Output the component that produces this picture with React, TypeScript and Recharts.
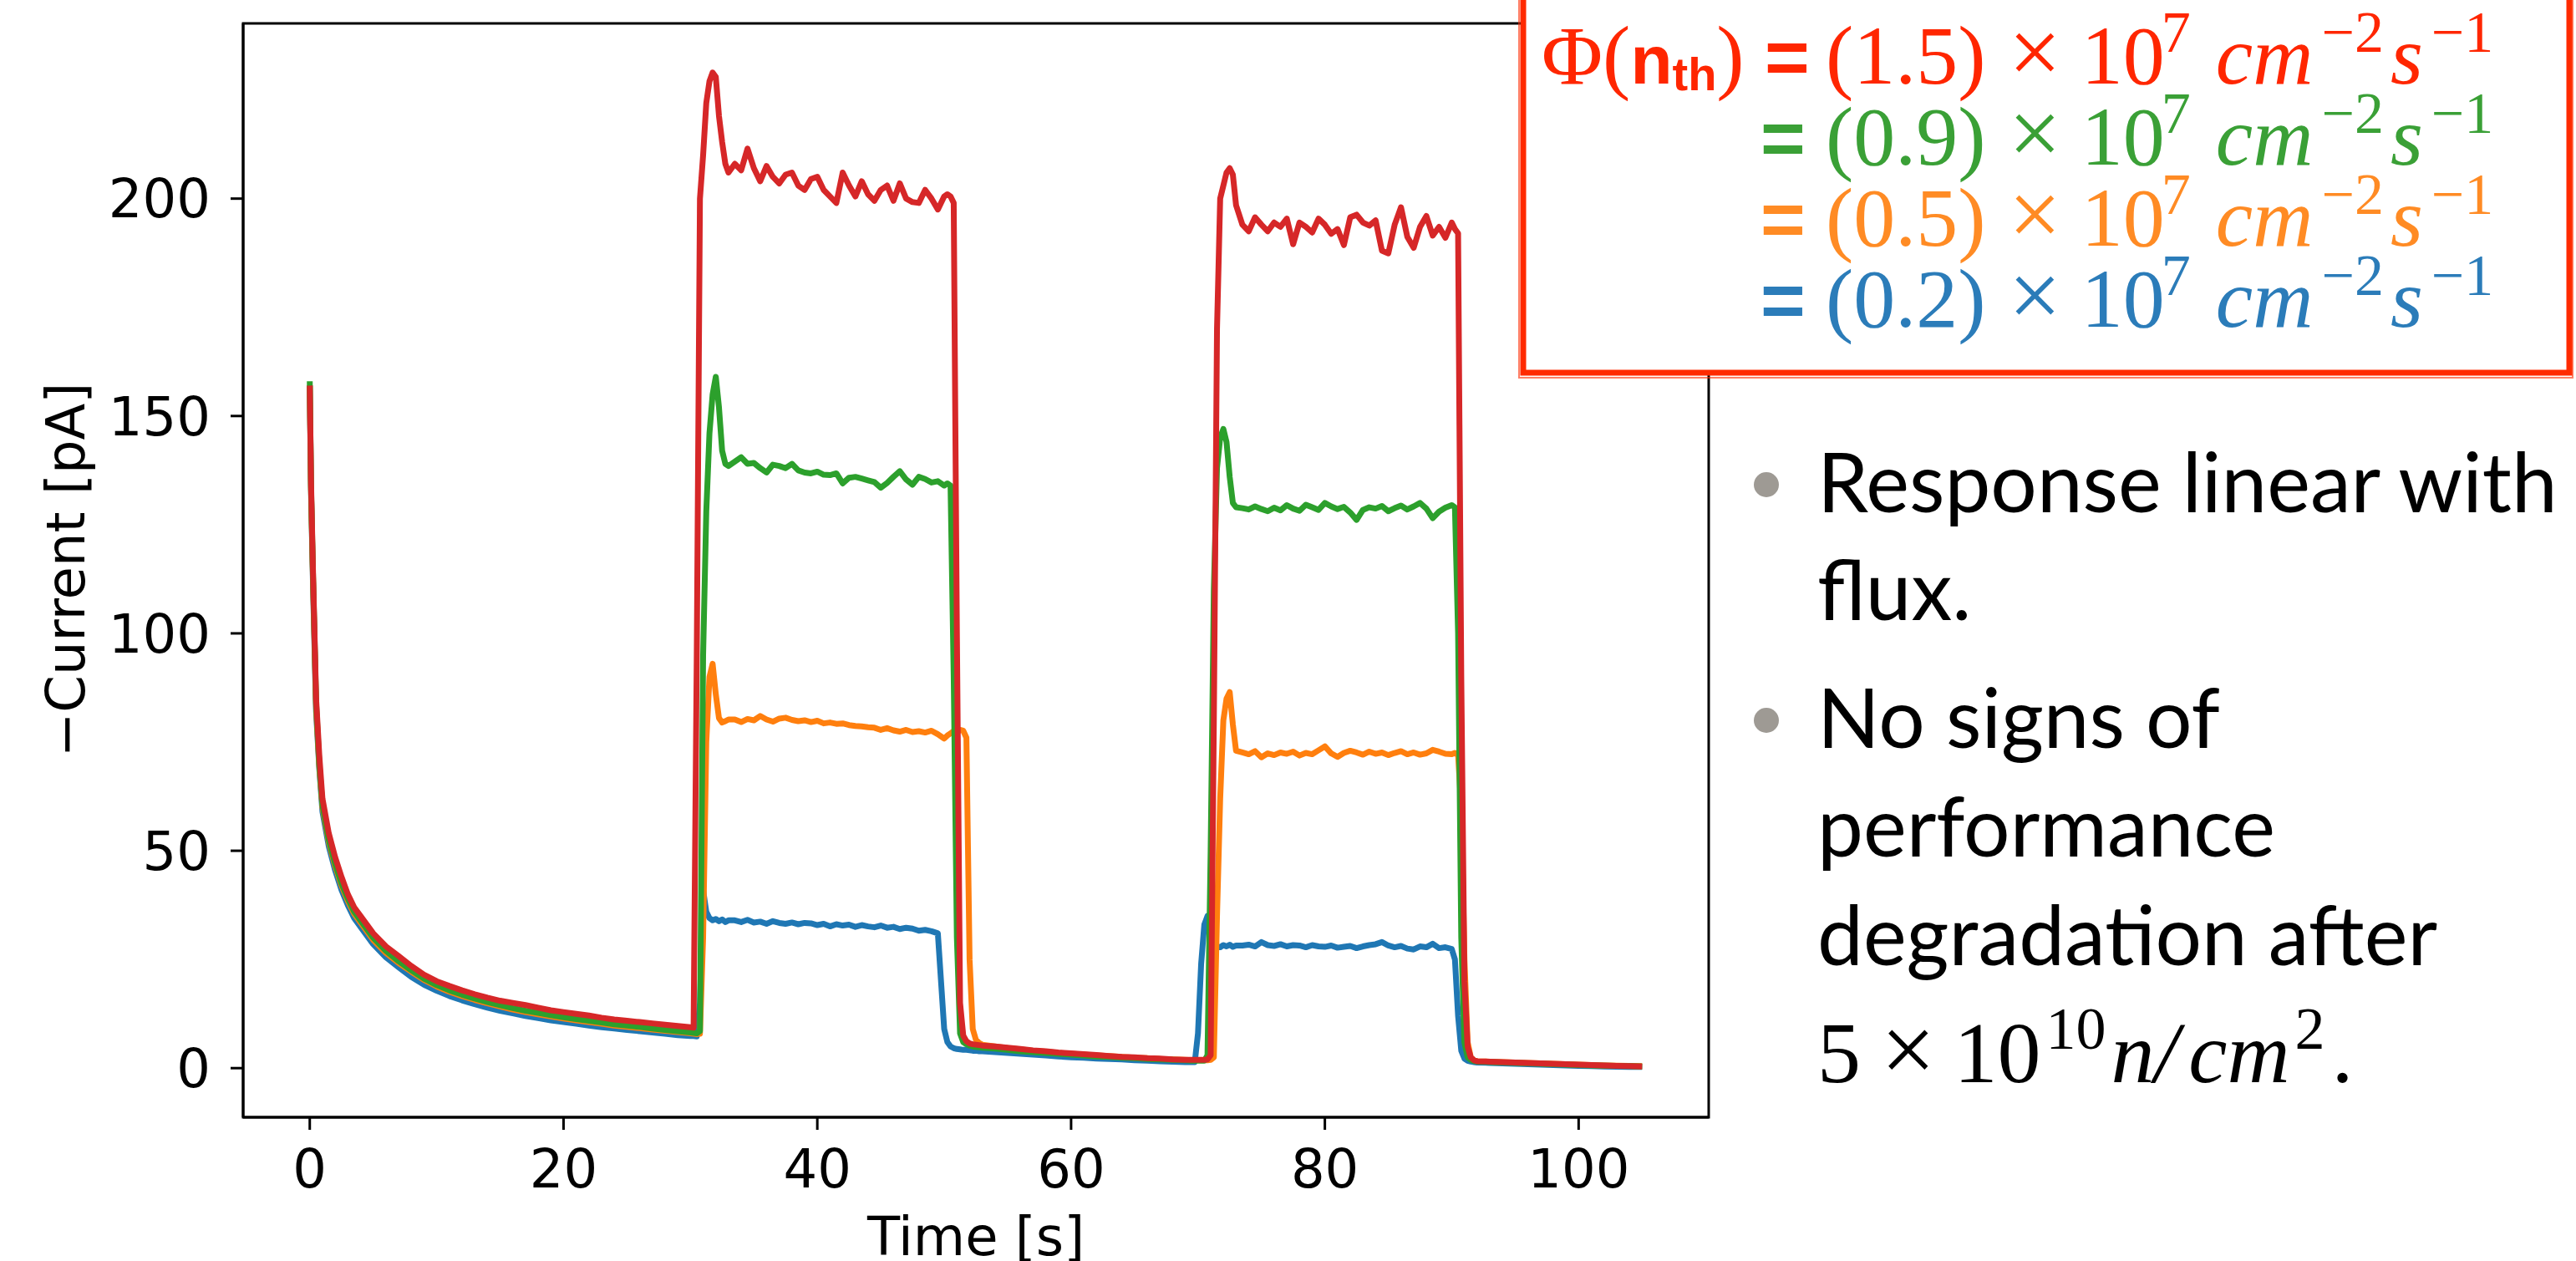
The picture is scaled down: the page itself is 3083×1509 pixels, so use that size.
import { LineChart, Line, XAxis, YAxis, ReferenceArea } from "recharts"

// time axis [s], denser where the signal switches
const TIME = [
  0, 0.1, 0.25, 0.5, 0.75, 1, 1.5, 2, 2.5, 3, 3.5, 4, 5, 6, 7, 8, 9, 10, 11, 12, 13, 14, 15, 16, 17, 18, 19, 20, 21, 22, 23, 24, 25, 26, 27, 28, 29, 30,
  30.25, 30.5, 30.75, 31, 31.25, 31.5, 31.75, 32, 32.25, 32.5, 32.75, 33,
  33.5, 34, 34.5, 35, 35.5, 36, 36.5, 37, 37.5, 38, 38.5, 39, 39.5, 40, 40.5, 41, 41.5, 42, 42.5, 43, 43.5, 44, 44.5, 45, 45.5, 46, 46.5, 47, 47.5, 48, 48.5, 49, 49.5, 50,
  50.25, 50.5, 50.75, 51, 51.25, 51.5, 51.75, 52, 52.25, 52.5, 52.75, 53,
  54, 55, 56, 57, 58, 59, 60, 61, 62, 63, 64, 65, 66, 67, 68, 69,
  69.5, 69.75, 70, 70.25, 70.5, 70.75, 71, 71.25, 71.5, 71.75, 72, 72.25, 72.5, 72.75, 73,
  73.5, 74, 74.5, 75, 75.5, 76, 76.5, 77, 77.5, 78, 78.5, 79, 79.5, 80, 80.5, 81, 81.5, 82, 82.5, 83, 83.5, 84, 84.5, 85, 85.5, 86, 86.5, 87, 87.5, 88, 88.5, 89, 89.5, 90,
  90.25, 90.5, 90.75, 91, 91.25, 91.5, 91.75, 92,
  93, 94, 95, 96, 97, 98, 99, 100, 101, 102, 103, 104, 105,
]

// -current [pA] per flux
const BLUE = [
  157, 133, 112, 82, 69, 59, 51, 45.5, 41, 37.5, 34.5, 32.5, 28.5, 25.5, 23.2, 21.0, 19.2, 17.8, 16.6, 15.6, 14.7, 13.9, 13.2, 12.6, 12.0, 11.5, 11.0, 10.6, 10.2, 9.8, 9.4, 9.1, 8.8, 8.5, 8.2, 7.9, 7.6, 7.4,
  7.4, 7.3, 15, 41, 36, 34.5, 34, 34.3, 33.8, 34.2, 33.6, 34.0,
  34.0, 33.6, 34.1, 33.5, 33.7, 33.2, 33.8, 33.4, 33.2, 33.5, 33.1, 33.4, 33.3, 32.9, 33.2, 32.6, 33.1, 32.8, 33.0, 32.5, 32.9, 32.6, 32.4, 32.8, 32.3, 32.5, 32.0, 32.3, 32.1, 31.6, 31.8, 31.5, 31.0, 9,
  6, 5, 4.6, 4.4, 4.3, 4.2, 4.2, 4.1, 4.0, 4.0, 3.9, 3.9,
  3.7, 3.5, 3.3, 3.1, 2.9, 2.7, 2.5, 2.4, 2.2, 2.1, 2.0, 1.8, 1.7, 1.6, 1.5, 1.4,
  1.4, 1.4, 8, 24, 33, 35, 31, 28.5, 28, 27.8, 28.3, 28.0, 28.4, 27.9, 28.2,
  28.2, 28.4, 28.0, 29.0, 28.3, 28.1, 28.5, 28.0, 28.3, 28.2, 27.8, 28.3, 28.0, 27.9, 28.2, 27.7, 27.9, 28.1, 27.6, 28.0, 28.3, 28.5, 29.0, 28.2, 27.8, 28.1, 27.5, 27.3, 28.0, 27.8, 28.6, 27.6, 27.8, 27.4,
  25, 12, 4, 2.2, 1.7, 1.5, 1.4, 1.3,
  1.2, 1.1, 1.0, 0.9, 0.8, 0.7, 0.6, 0.5, 0.45, 0.4, 0.35, 0.3, 0.3,
]

const ORANGE = [
  157, 133, 113, 83, 69.5, 60, 52, 46.5, 42, 38.5, 35.5, 33.5, 29.5, 26.5, 24.2, 22.2, 20.3, 18.8, 17.6, 16.6, 15.7, 14.9, 14.2, 13.5, 12.9, 12.4, 11.9, 11.4, 11.0, 10.6, 10.2, 9.8, 9.5, 9.2, 8.9, 8.6, 8.3, 8.0,
  7.9, 7.8, 7.9, 30, 75, 90, 93, 86, 80.5, 79.5, 79.8, 80.2,
  80.2, 79.6, 80.3, 80, 81, 80.2, 79.7, 80.4, 80.6, 80.1, 79.8, 80, 79.6, 79.9, 79.3, 79.5, 79.2, 79.3, 78.9, 78.7, 78.6, 78.4, 78.3, 77.8, 78.2, 77.7, 77.4, 77.8, 77.3, 77.5, 77.2, 77.6, 76.8, 75.8,
  76.5, 77, 77.5, 77.2, 77.8, 77.6, 76, 25, 9, 6.5, 5.8, 5.4,
  5.0, 4.6, 4.3, 4.0, 3.8, 3.5, 3.3, 3.1, 2.9, 2.8, 2.6, 2.4, 2.3, 2.1, 2.0, 1.9,
  1.8, 1.8, 1.8, 1.8, 1.8, 1.8, 1.9, 2.5, 35, 62, 80, 85, 86.5, 79, 73,
  72.6, 72.2, 72.9, 71.5, 72.4, 72.0, 72.6, 72.3, 72.8, 71.9, 72.5, 72.2, 73.1, 74.0, 72.4, 71.6, 72.5, 73.0, 72.6, 72.1, 72.8, 72.3, 72.6, 72.0, 72.5, 72.9, 72.2, 72.6, 72.1, 72.4, 73.2, 72.8, 72.3, 72.2,
  72.5, 72, 60, 25, 6, 2.5, 1.8, 1.6,
  1.5, 1.4, 1.3, 1.2, 1.1, 1.0, 0.9, 0.8, 0.7, 0.6, 0.55, 0.5, 0.45,
]

const GREEN = [
  158, 134, 114, 84, 70, 60.5, 52.5, 47, 42.5, 39, 36, 34, 30, 27, 24.6, 22.5, 20.6, 19.1, 17.9, 16.9, 16.0, 15.2, 14.5, 13.8, 13.2, 12.7, 12.2, 11.7, 11.3, 10.9, 10.5, 10.1, 9.8, 9.5, 9.1, 8.8, 8.5, 8.2,
  8.1, 8.0, 8.5, 95, 128, 146, 155, 159, 152, 142, 139, 138.5,
  139.5, 140.5, 139, 139.2, 138, 137, 138.8, 138.5, 138, 139, 137.5, 137, 136.8, 137.2, 136.5, 136.4, 136.8, 134.5, 135.8, 136, 135.6, 135.2, 134.8, 133.5, 134.6, 136, 137.3, 135.4, 134.2, 136, 135.5, 134.7, 135, 134,
  134.5, 134, 90, 30, 8, 6, 5.5, 5.2, 5.0, 4.9, 4.8, 4.7,
  4.5, 4.2, 3.9, 3.7, 3.5, 3.3, 3.1, 2.9, 2.7, 2.6, 2.4, 2.3, 2.1, 2.0, 1.9, 1.8,
  1.7, 1.7, 1.7, 1.7, 1.7, 3, 50, 110, 138, 145, 147, 144, 136, 130, 129,
  128.8, 128.5, 129.2, 128.6, 128.1, 128.9, 128.3, 129.5, 128.7, 128.2, 129.6, 129.0, 128.4, 130.0, 129.2, 128.6, 129.1, 127.8, 126.1, 128.4, 129.0, 128.7, 129.3, 128.1, 128.8, 129.4, 128.5, 129.2, 130.0, 128.7, 126.5, 128.0, 128.9, 129.5,
  129, 100, 30, 6, 2.5, 1.9, 1.6, 1.5,
  1.4, 1.3, 1.2, 1.1, 1.0, 0.9, 0.8, 0.7, 0.6, 0.55, 0.5, 0.45, 0.4,
]

const RED = [
  157, 135, 115, 85, 72, 62, 54, 48.5, 44, 40, 37, 35, 31, 28, 25.8, 23.5, 21.5, 20.0, 18.9, 17.9, 17.0, 16.2, 15.5, 15.0, 14.5, 13.9, 13.3, 12.9, 12.5, 12.1, 11.6, 11.2, 10.9, 10.6, 10.3, 10.0, 9.7, 9.4,
  9.3, 95, 200, 210, 222, 227, 229, 228, 219, 213, 208, 206,
  208, 206.5, 211.5, 207, 204, 207.5, 205, 203.5, 205.5, 206, 203, 202, 204.5, 205, 202, 200.5, 199, 206, 203, 200.5, 204, 201, 199.5, 202, 203, 199.5, 203.5, 200, 199.2, 199, 202, 200, 197.5, 200.5,
  201, 200.5, 199, 100, 15, 7.5, 6.2, 5.7, 5.5, 5.4, 5.3, 5.2,
  5.0, 4.7, 4.4, 4.1, 3.9, 3.6, 3.4, 3.2, 3.0, 2.8, 2.6, 2.5, 2.3, 2.2, 2.0, 1.9,
  1.9, 1.9, 1.9, 1.9, 1.9, 2.0, 3, 80, 170, 200, 203, 206, 207, 205.5, 198.5,
  194, 192.5, 195.7, 194, 192.5, 194.5, 193.5, 195.4, 189.5, 194.5, 193.5, 192.2, 195.4, 194, 191.9, 193, 189.3, 195.7, 196.3, 194.5, 193.8, 195, 188, 187.4, 194, 198, 191.2, 188.7, 193.5, 196, 191.5, 193.5, 191, 194.5,
  193, 192, 90, 20, 5, 2.5, 1.8, 1.6,
  1.5, 1.4, 1.3, 1.2, 1.1, 1.0, 0.9, 0.8, 0.7, 0.6, 0.5, 0.45, 0.4,
]

const X_TICKS = [0, 20, 40, 60, 80, 100]
const Y_TICKS = [0, 50, 100, 150, 200]
const FLUX_VALUES = ["1.5", "0.9", "0.5", "0.2"]
const BULLETS = [
  ["Response linear with", "flux."],
  ["No signs of", "performance", "degradation after"],
]

const X_MIN = -5.25
const X_MAX = 110.25
const Y_MIN = -11.3
const Y_MAX = 240.3

const SERIES = [
  { key: "blue", color: "#1f77b4" },
  { key: "orange", color: "#ff7f0e" },
  { key: "green", color: "#2ca02c" },
  { key: "red", color: "#d62728" },
]
// legend text colours, top to bottom
const FLUX_COLORS = ["#ff2600", "#3aa036", "#ff8b24", "#2b7cb9"]
const BOX_RED = "#ff2a00"

const AXIS_FONT = "DejaVu Sans"
const MATH_FONT = "Liberation Serif"
const BODY_FONT = "Lato"

const rows = TIME.map((t, i) => ({ t, blue: BLUE[i], orange: ORANGE[i], green: GREEN[i], red: RED[i] }))

function FluxLegend() {
  return (
    <g>
      <rect x={1823} y={-20} width={1252} height={466} fill="#fff" stroke={BOX_RED} strokeWidth={7} />
      <rect x={1818} y={-20} width={1261} height={472} fill="none" stroke={BOX_RED} strokeWidth={2} opacity={0.6} />
      <text x={1845} y={100} fill={FLUX_COLORS[0]} fontSize={100} fontFamily={MATH_FONT}>
        Φ(
        <tspan fontFamily="Liberation Sans" fontWeight="bold" fontSize={82}>n</tspan>
        <tspan fontFamily="Liberation Sans" fontWeight="bold" fontSize={56} dy={8}>th</tspan>
        <tspan dy={-8}>)</tspan>
      </text>
      {FLUX_VALUES.map((v, i) => {
        const y = 100 + i * 97
        const c = FLUX_COLORS[i]
        return (
          <g key={v}>
            <text x={i === 0 ? 2112 : 2107} y={y} fill={c} fontSize={92} fontFamily="Liberation Sans" fontWeight="bold">=</text>
            <text x={2185} y={y} fill={c} fontSize={100} fontFamily={MATH_FONT}>
              ({v})
              <tspan dx={27} fontSize={112}>×</tspan>
              <tspan dx={24}>10</tspan>
              <tspan dx={-4} dy={-38} fontSize={70}>7</tspan>
              <tspan dx={30} dy={38} fontStyle="italic">cm</tspan>
              <tspan dx={10} dy={-38} fontSize={70}>−2</tspan>
              <tspan dx={8} dy={38} fontStyle="italic">s</tspan>
              <tspan dx={10} dy={-38} fontSize={70}>−1</tspan>
            </text>
          </g>
        )
      })}
    </g>
  )
}

function Notes() {
  const baselines = [[613, 742], [895, 1025, 1155]]
  const dots = [580, 862]
  return (
    <g>
      {BULLETS.map((lines, b) => (
        <g key={b}>
          <circle cx={2114} cy={dots[b]} r={15} fill="#9e9a94" />
          {lines.map((s, k) => (
            <text key={s} x={2175} y={baselines[b][k]} fontSize={98} fontFamily={BODY_FONT} fill="#000">{s}</text>
          ))}
        </g>
      ))}
      <text x={2175} y={1295} fontSize={104} fontFamily={MATH_FONT} fill="#000">
        5
        <tspan dx={24} fontSize={116}>×</tspan>
        <tspan dx={22}>10</tspan>
        <tspan dx={6} dy={-40} fontSize={72}>10</tspan>
        <tspan dx={6} dy={40} fontStyle="italic">n/</tspan>
        <tspan dx={12} fontStyle="italic">cm</tspan>
        <tspan dx={6} dy={-40} fontSize={72}>2</tspan>
        <tspan dx={8} dy={40}>.</tspan>
      </text>
    </g>
  )
}

export default function App() {
  const tickStyle = { fontSize: 64, fill: "#000", fontFamily: AXIS_FONT }
  return (
    <div style={{ position: "fixed", left: 0, top: 0, width: 3083, height: 1509, background: "#fff", overflow: "hidden" }}>
      <div style={{ position: "absolute", left: 0, top: 0 }}>
        <LineChart width={2100} height={1509} data={rows} margin={{ top: 28, right: 55, bottom: 0, left: 0 }}>
          <XAxis
            dataKey="t"
            type="number"
            domain={[X_MIN, X_MAX]}
            ticks={X_TICKS}
            allowDataOverflow
            height={172}
            tickSize={15}
            tickMargin={24}
            tick={tickStyle}
            axisLine={{ stroke: "#000", strokeWidth: 3 }}
            tickLine={{ stroke: "#000", strokeWidth: 3 }}
            label={{
              content: () => (
                <text x={1168} y={1502} textAnchor="middle" fontSize={64} fontFamily={AXIS_FONT} fill="#000">Time [s]</text>
              ),
            }}
          />
          <YAxis
            type="number"
            domain={[Y_MIN, Y_MAX]}
            ticks={Y_TICKS}
            allowDataOverflow
            width={291}
            tickSize={15}
            tickMargin={24}
            tick={tickStyle}
            axisLine={{ stroke: "#000", strokeWidth: 3 }}
            tickLine={{ stroke: "#000", strokeWidth: 3 }}
            label={{
              content: () => (
                <text x={79} y={682} transform="rotate(-90 79 682)" textAnchor="middle" dominantBaseline="central" fontSize={64} fontFamily={AXIS_FONT} fill="#000">−Current [pA]</text>
              ),
            }}
          />
          <ReferenceArea x1={X_MIN} x2={X_MAX} y1={Y_MIN} y2={Y_MAX} fill="none" stroke="#000" strokeWidth={3} />
          {SERIES.map((s) => (
            <Line
              key={s.key}
              dataKey={s.key}
              type="linear"
              stroke={s.color}
              strokeWidth={7}
              strokeLinejoin="round"
              dot={false}
              activeDot={false}
              isAnimationActive={false}
            />
          ))}
        </LineChart>
      </div>
      <svg width={3083} height={1509} style={{ position: "absolute", left: 0, top: 0 }}>
        <FluxLegend />
        <Notes />
      </svg>
    </div>
  )
}
